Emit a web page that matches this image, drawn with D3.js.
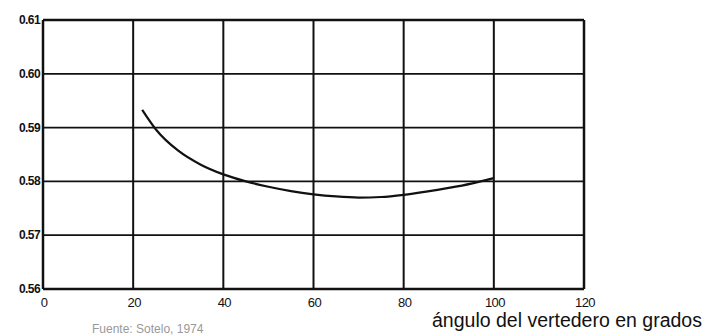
<!DOCTYPE html>
<html>
<head>
<meta charset="utf-8">
<script src="https://cdn.jsdelivr.net/npm/d3@7"></script>
<style>
  body { margin: 0; background: #fff; }
  svg { display: block; }
  text { font-family: "Liberation Sans", Arial, sans-serif; fill: #111; }
</style>
</head>
<body>
<div id="chart"></div>
<script>
// angulo (grados) vs coeficiente
var angulos = [22, 25, 30, 35, 40, 45, 50, 55, 60, 65, 70, 75, 80, 85, 90, 95, 100];
var coefs = [0.5933, 0.5897, 0.5857, 0.5831, 0.5813, 0.5800, 0.5790, 0.5782, 0.5776,
             0.5772, 0.5770, 0.5771, 0.5775, 0.5781, 0.5788, 0.5796, 0.5806];
var xTicks = [0, 20, 40, 60, 80, 100, 120];
var yTicks = [0.56, 0.57, 0.58, 0.59, 0.60, 0.61];
var yTickLabels = ["0.56", "0.57", "0.58", "0.59", "0.60", "0.61"];

var W = 713, H = 335;
var svg = d3.select("#chart").append("svg").attr("width", W).attr("height", H);

var x = d3.scaleLinear().domain([0, 120]).range([43, 584]);
var y = d3.scaleLinear().domain([0.56, 0.61]).range([289, 20]);

// rejilla
svg.append("g").selectAll("line").data(xTicks).enter().append("line")
    .attr("x1", function (d) { return x(d); })
    .attr("x2", function (d) { return x(d); })
    .attr("y1", y(0.61)).attr("y2", y(0.56))
    .attr("stroke", "#111")
    .attr("stroke-width", function (d) { return (d == 0 || d == 120) ? 2.5 : 2; });

svg.append("g").selectAll("line").data(yTicks).enter().append("line")
    .attr("x1", x(0)).attr("x2", x(120))
    .attr("y1", function (d) { return y(d); })
    .attr("y2", function (d) { return y(d); })
    .attr("stroke", "#111")
    .attr("stroke-width", function (d, i) { return (i == 0 || i == yTicks.length - 1) ? 2.5 : 1.8; });

// etiquetas eje y
svg.append("g").selectAll("text").data(yTicks).enter().append("text")
    .attr("x", 40)
    .attr("y", function (d) { return y(d) + 4; })
    .attr("text-anchor", "end")
    .style("font-size", "12px")
    .style("font-weight", "bold")
    .style("letter-spacing", "-0.6px")
    .text(function (d, i) { return yTickLabels[i]; });

// etiquetas eje x
svg.append("g").selectAll("text").data(xTicks).enter().append("text")
    .attr("x", function (d) { return x(d) + 1; })
    .attr("y", 307)
    .attr("text-anchor", "middle")
    .style("font-size", "13px")
    .style("letter-spacing", "-0.6px")
    .text(function (d) { return d; });

// curva
var line = d3.line()
    .x(function (d) { return x(d[0]); })
    .y(function (d) { return y(d[1]); })
    .curve(d3.curveMonotoneX);

svg.append("path")
    .datum(d3.zip(angulos, coefs))
    .attr("d", line)
    .attr("fill", "none")
    .attr("stroke", "#111")
    .attr("stroke-width", 2.2);

svg.append("text")
    .attr("x", 432).attr("y", 327)
    .style("font-size", "19.5px")
    .text("ángulo del vertedero en grados");

svg.append("text")
    .attr("x", 92).attr("y", 333)
    .style("font-size", "12px")
    .style("fill", "#999")
    .text("Fuente: Sotelo, 1974");
</script>
</body>
</html>
